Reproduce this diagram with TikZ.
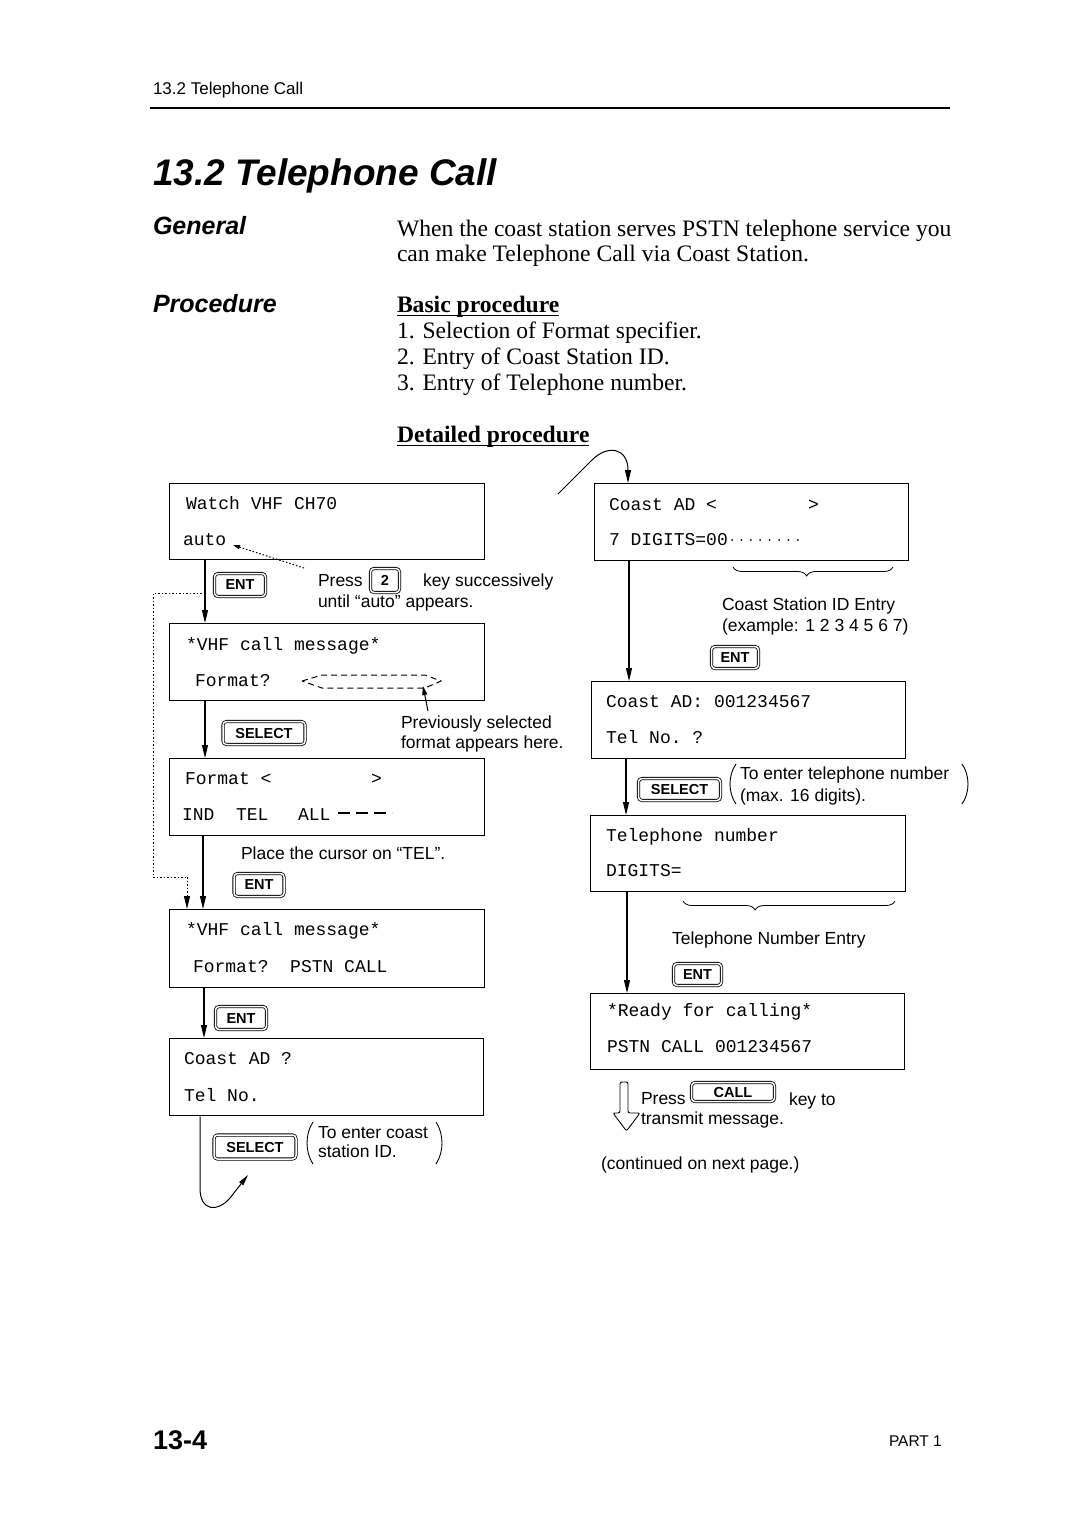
\documentclass[tikz,border=0pt]{standalone}
\usepackage{fontspec}
\setmainfont{Liberation Serif}
\setsansfont{Liberation Sans}
\setmonofont{Liberation Mono}
\usetikzlibrary{arrows.meta,decorations.pathreplacing}
\newcommand\mfont{\ttfamily\fontsize{18}{18}\selectfont}
\newcommand\afont{\sffamily\fontsize{17.5}{17.5}\selectfont}
\newcommand\bfont{\rmfamily\fontsize{23.6}{23.6}\selectfont}
\begin{document}
\begin{tikzpicture}[x=1pt,y=-1pt,
  scr/.style={draw, line width=1.3pt, anchor=north west, inner sep=0pt},
  t/.style={anchor=base west, inner sep=0pt, outer sep=0pt},
  mt/.style={t, font=\mfont},
  ann/.style={t, font=\afont},
  bt/.style={t, font=\bfont},
  arr/.style={line width=1.1pt, -{Triangle[length=13pt,width=6pt]}},
  key/.style={draw, double, double distance=1.5pt, line width=0.8pt, rounded corners=3.5pt, inner sep=0pt, font=\sffamily\bfseries\fontsize{14.5}{14.5}\selectfont},
  br/.style={decorate, decoration={brace, mirror, amplitude=9pt}, line width=0.8pt},
  dots/.style={line width=1pt, dash pattern=on 1.5pt off 2pt},
]
\useasboundingbox (0,0) rectangle (1080,1528);
\fill[white] (0,0) rectangle (1080,1528);

% header
\node[t, font=\sffamily\fontsize{17}{17}\selectfont] (hdr) at (153,94) {13.2 Telephone Call};
\draw[line width=1.8pt] (150,108) -- (950,108);
\node[t, font=\sffamily\bfseries\itshape\fontsize{37}{37}\selectfont] (title) at (153,185) {13.2 Telephone Call};
\node[t, font=\sffamily\bfseries\itshape\fontsize{25}{25}\selectfont] (gen) at (153,234) {General};
\node[t, font=\sffamily\bfseries\itshape\fontsize{25}{25}\selectfont] (proc) at (153,312) {Procedure};

\node[bt] (p1) at (397,236) {When the coast station serves PSTN telephone service you};
\node[bt] (p2) at (397,261) {can make Telephone Call via Coast Station.};
\node[bt, font=\bfont\bfseries] (bp) at (397,312) {Basic procedure};
\draw[line width=1.2pt] ([yshift=-3.5pt]bp.base west) -- ([yshift=-3.5pt]bp.base east);
\node[bt] (s1) at (397,338) {1. Selection of Format specifier.};
\node[bt] (s2) at (397,364) {2. Entry of Coast Station ID.};
\node[bt] (s3) at (397,390) {3. Entry of Telephone number.};
\node[bt, font=\bfont\bfseries] (dp) at (397,442) {Detailed procedure};
\draw[line width=1.2pt] ([yshift=-3.5pt]dp.base west) -- ([yshift=-3.5pt]dp.base east);

% left screens
\node[scr, minimum width=315pt, minimum height=76pt] (b1) at (169,483) {};
\node[scr, minimum width=315pt, minimum height=77pt] (b2) at (169,623) {};
\node[scr, minimum width=315pt, minimum height=77pt] (b3) at (169,758) {};
\node[scr, minimum width=315pt, minimum height=78pt] (b4) at (169,909) {};
\node[scr, minimum width=314pt, minimum height=77pt] (b5) at (169,1038) {};

\node[mt] (b1a) at (186,509) {Watch VHF CH70};
\node[mt] (auto) at (183,545) {auto};
\node[mt] (b2a) at (186,650) {*VHF call message*};
\node[mt] (b2b) at (195,686) {Format?};
\node[mt] (b3a) at (185,784) {Format <};
\node[mt] (b3g) at (371,784) {>};
\node[mt] (b3b) at (182,820) {IND};
\node[mt] (b3c) at (236,820) {TEL};
\node[mt] (b3d) at (298,820) {ALL};
\draw[line width=1.3pt, dash pattern=on 12pt off 6pt] (338,813) -- (392,813);
\node[mt] (b4a) at (186,935) {*VHF call message*};
\node[mt] (b4b) at (193,972) {Format?\ \ PSTN CALL};
\node[mt] (b5a) at (184,1064) {Coast AD ?};
\node[mt] (b5b) at (184,1101) {Tel No.};

% right screens
\node[scr, minimum width=314pt, minimum height=77pt] (r1) at (594,483) {};
\node[scr, minimum width=314pt, minimum height=77pt] (r2) at (591,681) {};
\node[scr, minimum width=315pt, minimum height=76pt] (r3) at (590,815) {};
\node[scr, minimum width=314pt, minimum height=76pt] (r4) at (590,993) {};

\node[mt] (r1a) at (609,510) {Coast AD <};
\node[mt] (r1g) at (808,510) {>};
\node[mt] (r1b) at (609,545) {7 DIGITS=00};
\foreach \i in {0,...,7} \fill (732+\i*9.4,540) circle (1pt);
\node[mt] (r2a) at (606,707) {Coast AD: 001234567};
\node[mt] (r2b) at (606,743) {Tel No. ?};
\node[mt] (r3a) at (606,841) {Telephone number};
\node[mt] (r3b) at (606,876) {DIGITS=};
\node[mt] (r4a) at (607,1016) {*Ready for calling*};
\node[mt] (r4b) at (607,1052) {PSTN CALL 001234567};

% keys
\node[key, minimum width=51pt, minimum height=23pt] (k1) at (240,585) {ENT};
\node[key, minimum width=29pt, minimum height=24pt] (k2) at (385,580.5) {2};
\node[key, minimum width=82pt, minimum height=23pt] (k3) at (264,733) {SELECT};
\node[key, minimum width=50pt, minimum height=23pt] (k4) at (259,885) {ENT};
\node[key, minimum width=51pt, minimum height=23pt] (k5) at (241,1018) {ENT};
\node[key, minimum width=82pt, minimum height=24pt] (k6) at (255,1147) {SELECT};
\node[key, minimum width=47pt, minimum height=22pt] (k7) at (735,657.5) {ENT};
\node[key, minimum width=82pt, minimum height=22pt] (k8) at (679.5,789.5) {SELECT};
\node[key, minimum width=48pt, minimum height=22pt] (k9) at (697.5,974.5) {ENT};
\node[key, minimum width=83pt, minimum height=19pt] (k10) at (733,1092) {CALL};

% annotations
\node[ann] (pr) at (318,586) {Press};
\node[ann] (ks) at (423,586) {key successively};
\node[ann] (un) at (318,607) {until “auto” appears.};
\node[ann] (pv1) at (401,728) {Previously selected};
\node[ann] (pv2) at (401,748) {format appears here.};
\node[ann] (pc) at (241,859) {Place the cursor on “TEL”.};
\node[ann] (tc1) at (318,1138) {To enter coast};
\node[ann] (tc2) at (318,1157) {station ID.};
\node[ann] (cs1) at (722,610) {Coast Station ID Entry};
\node[ann] (cs2) at (722,631) {(example: 1 2 3 4 5 6 7)};
\node[ann] (tt1) at (740,779) {To enter telephone number};
\node[ann] (tt2) at (740,801) {(max. 16 digits).};
\node[ann] (tn) at (672,944) {Telephone Number Entry};
\node[ann] (cp) at (641,1104) {Press};
\node[ann] (kt) at (789,1105) {key to};
\node[ann] (tm) at (641,1124) {transmit message.};
\node[ann] (cn) at (601,1169) {(continued on next page.)};

% parentheses
\draw[line width=0.9pt] (313,1122) .. controls (305,1134) and (305,1152) .. (313,1164);
\draw[line width=0.9pt] (436,1122) .. controls (444,1134) and (444,1152) .. (436,1164);
\draw[line width=0.9pt] (736,764) .. controls (728,775) and (728,793) .. (736,804);
\draw[line width=0.9pt] (962,764) .. controls (970,775) and (970,793) .. (962,804);

% braces
\draw[br, decoration={aspect=0.46}] (733,567) -- (893,567);
\draw[br, decoration={aspect=0.34}] (683,901) -- (895,901);

% dashed lens
\draw[line width=1pt, dash pattern=on 6pt off 4pt] (302,681) -- (322,675) -- (425,675) -- (441,681) -- (425,688) -- (322,688) -- cycle;
\draw[line width=1pt, -{Triangle[length=9pt,width=5pt]}] (428,711) -- (423,686);

% dotted pointer to auto
\coordinate (d1) at (304,568);
\draw[dots, -{Triangle[length=7pt,width=4pt]}] (d1) -- (233,545);

% left flow connectors
\draw[arr] ([xshift=36pt]b1.south west) -- ([xshift=36pt]b2.north west);
\draw[arr] ([xshift=36pt]b2.south west) -- ([xshift=36pt]b3.north west);
\draw[arr] ([xshift=34pt]b3.south west) -- ([xshift=34pt]b4.north west);
\draw[arr] ([xshift=35pt]b4.south west) -- ([xshift=35pt]b5.north west);
\coordinate (lp1) at (205,593);
\coordinate (lp2) at (187,877);
\draw[dots] (lp1) -- (153,593) -- (153,877) -- (lp2);
\draw[dots, -{Triangle[length=13pt,width=6pt]}] (lp2) -- ([xshift=18pt]b4.north west);

% loop out of b5 and into r1
\coordinate (e1) at (248,1175);
\draw[line width=1pt, -{Triangle[length=11pt,width=5pt]}] ([xshift=31pt]b5.south west) -- (200,1188) .. controls (200,1212) and (218,1212) .. (230,1198) -- (e1);
\coordinate (e2) at (558,494);
\draw[line width=1pt, -{Triangle[length=13pt,width=6pt]}] (e2) -- (592,460) .. controls (608,444) and (628,448) .. ([xshift=34pt]r1.north west);

% right flow connectors
\draw[arr] ([xshift=35pt]r1.south west) -- ([xshift=38pt]r2.north west);
\draw[arr] ([xshift=35pt]r2.south west) -- ([xshift=36pt]r3.north west);
\draw[arr] ([xshift=37pt]r3.south west) -- ([xshift=37pt]r4.north west);

% hollow arrow
\draw[line width=0.9pt, rounded corners=2pt] (620,1082) -- (620,1113) -- (613,1113) -- (626.5,1131) -- (640,1113) -- (628,1113) -- (628,1082) -- cycle;

% footer
\node[t, font=\sffamily\bfseries\fontsize{27}{27}\selectfont] (pg) at (153,1449) {13-4};
\node[t, font=\sffamily\fontsize{15.5}{15.5}\selectfont] (pt) at (889,1446) {PART 1};
\end{tikzpicture}
\end{document}
